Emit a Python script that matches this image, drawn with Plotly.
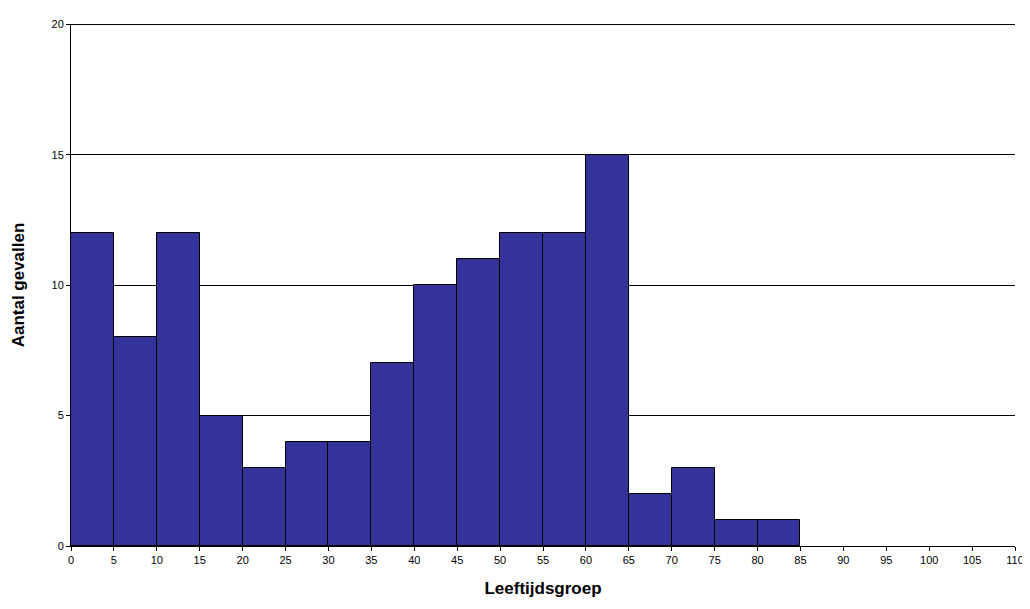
import plotly.graph_objects as go

# age groups (left edge of each 5-year bin) and counts
age_start = [0, 5, 10, 15, 20, 25, 30, 35, 40, 45, 50, 55, 60, 65, 70, 75, 80]
counts = [12, 8, 12, 5, 3, 4, 4, 7, 10, 11, 12, 12, 15, 2, 3, 1, 1]
x_ticks = list(range(0, 111, 5))
y_ticks = [0, 5, 10, 15, 20]

fig = go.Figure(go.Bar(
    x=[a + 2.5 for a in age_start], y=counts, width=5,
    marker=dict(color="#333399", line=dict(color="black", width=1)),
))

fig.update_layout(
    width=1030, height=609,
    margin=dict(l=63, r=23, t=10, b=71),
    plot_bgcolor="white", paper_bgcolor="white",
    font=dict(family="Arial, Liberation Sans", size=11, color="black"),
    showlegend=False,
    bargap=0,
)
# top gridline at 20 sits on the plot edge
fig.add_shape(type="line", xref="paper", x0=0, x1=1, yref="y", y0=20, y1=20,
              line=dict(color="black", width=1))
fig.update_xaxes(
    range=[0, 110], tickvals=x_ticks, showgrid=False, zeroline=False,
    showline=True, linecolor="black", ticks="outside", ticklen=4, tickcolor="black",
    title=dict(text="<b>Leeftijdsgroep</b>", font=dict(size=17), standoff=16),
)
fig.update_yaxes(
    range=[0, 20.02], tickvals=y_ticks, showgrid=True, gridcolor="black", gridwidth=1,
    zeroline=False, showline=True, linecolor="black",
    ticks="outside", ticklen=4, tickcolor="black",
    title=dict(text="<b>Aantal gevallen</b>", font=dict(size=17), standoff=22),
)

fig.write_html("out.html")
